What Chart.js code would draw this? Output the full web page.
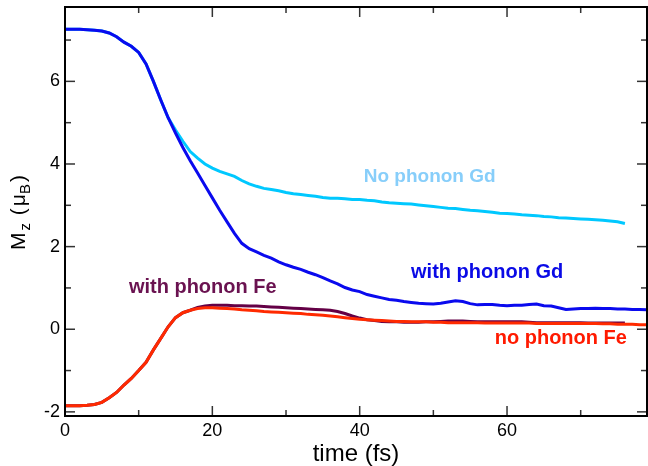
<!DOCTYPE html>
<html>
<head>
<meta charset="utf-8">
<script src="https://cdn.jsdelivr.net/npm/chart.js@4.4.1/dist/chart.umd.min.js"></script>
<style>
  html, body { margin: 0; padding: 0; background: #fff; }
</style>
</head>
<body>
<canvas id="magChart" width="648" height="466"></canvas>
<script>
// time grid (fs)
const timeFs = [
  0, 1, 2, 3, 4, 5, 6, 7, 8, 9, 10, 11, 12, 13, 14, 15, 16, 17, 18, 19,
  20, 21, 22, 23, 24, 25, 26, 27, 28, 29, 30, 31, 32, 33, 34, 35, 36, 37, 38, 39,
  40, 41, 42, 43, 44, 45, 46, 47, 48, 49, 50, 51, 52, 53, 54, 55, 56, 57, 58, 59,
  60, 61, 62, 63, 64, 65, 66, 67, 68, 69, 70, 71, 72, 73, 74, 75, 76, 77, 78, 79
];

// Gd moment with phonons (blue)
const gdWithPhonon = [
  7.26, 7.26, 7.26, 7.25, 7.24, 7.22, 7.17, 7.08, 6.95, 6.85, 6.70, 6.42, 6.00, 5.55, 5.12, 4.75, 4.40, 4.08, 3.78, 3.48,
  3.18, 2.88, 2.60, 2.32, 2.08, 1.95, 1.87, 1.79, 1.72, 1.63, 1.56, 1.50, 1.45, 1.38, 1.32, 1.25, 1.17, 1.10, 1.01, 0.95,
  0.91, 0.84, 0.80, 0.76, 0.72, 0.70, 0.67, 0.65, 0.63, 0.62, 0.61, 0.63, 0.66, 0.69, 0.67, 0.62, 0.59, 0.60, 0.60, 0.58,
  0.57, 0.58, 0.58, 0.60, 0.61, 0.57, 0.56, 0.52, 0.48, 0.49, 0.50, 0.50, 0.51, 0.50, 0.50, 0.49, 0.49, 0.48, 0.48, 0.47
];

// Gd moment without phonons (cyan)
const gdNoPhonon = [
  7.26, 7.26, 7.26, 7.25, 7.24, 7.22, 7.17, 7.08, 6.95, 6.85, 6.70, 6.42, 6.00, 5.55, 5.12, 4.82, 4.55, 4.30, 4.14, 4.00,
  3.90, 3.82, 3.76, 3.70, 3.60, 3.52, 3.46, 3.41, 3.38, 3.35, 3.31, 3.28, 3.26, 3.24, 3.22, 3.19, 3.17, 3.17, 3.16, 3.14,
  3.14, 3.12, 3.11, 3.08, 3.06, 3.05, 3.04, 3.03, 3.01, 2.99, 2.97, 2.95, 2.93, 2.92, 2.90, 2.88, 2.87, 2.85, 2.83, 2.81,
  2.80, 2.79, 2.77, 2.76, 2.75, 2.73, 2.72, 2.70, 2.69, 2.68, 2.67, 2.66, 2.65, 2.64, 2.62, 2.60, 2.56, null, null, null
];

// Fe moment with phonons (purple)
const feWithPhonon = [
  -1.85, -1.85, -1.85, -1.84, -1.82, -1.77, -1.66, -1.53, -1.35, -1.19, -1.00, -0.80, -0.50, -0.22, 0.06, 0.28, 0.40, 0.46, 0.53, 0.56,
  0.58, 0.58, 0.58, 0.57, 0.57, 0.56, 0.56, 0.55, 0.54, 0.53, 0.52, 0.51, 0.50, 0.49, 0.48, 0.47, 0.46, 0.43, 0.38, 0.32,
  0.27, 0.23, 0.21, 0.19, 0.18, 0.18, 0.17, 0.17, 0.17, 0.18, 0.18, 0.19, 0.20, 0.20, 0.20, 0.19, 0.18, 0.18, 0.18, 0.18,
  0.18, 0.18, 0.18, 0.17, 0.16, 0.16, 0.16, 0.16, 0.16, 0.16, 0.16, 0.15, 0.15, 0.15, 0.15, 0.15, 0.15, null, null, null
];

// Fe moment without phonons (red)
const feNoPhonon = [
  -1.85, -1.85, -1.85, -1.84, -1.82, -1.77, -1.66, -1.53, -1.35, -1.19, -1.00, -0.80, -0.50, -0.22, 0.06, 0.28, 0.40, 0.46, 0.50, 0.52,
  0.52, 0.51, 0.50, 0.49, 0.47, 0.46, 0.45, 0.43, 0.42, 0.41, 0.40, 0.39, 0.38, 0.36, 0.35, 0.34, 0.32, 0.30, 0.28, 0.26,
  0.24, 0.23, 0.22, 0.21, 0.20, 0.19, 0.19, 0.18, 0.18, 0.18, 0.17, 0.17, 0.16, 0.16, 0.16, 0.16, 0.16, 0.15, 0.15, 0.15,
  0.15, 0.15, 0.15, 0.15, 0.14, 0.14, 0.14, 0.14, 0.14, 0.14, 0.14, 0.14, 0.14, 0.13, 0.13, 0.12, 0.12, 0.12, 0.11, 0.11
];

// axis ticks
const xMajorTicks = [0, 20, 40, 60];
const xMinorTicks = [10, 30, 50, 70];
const yMajorTicks = [-2, 0, 2, 4, 6];
const yMinorTicks = [-1, 1, 3, 5, 7];

// in-plot curve labels, placed in data coordinates
const curveLabels = [
  { text: 'No phonon Gd', t: 49.5, m: 3.68, color: '#87cefa', size: 19 },
  { text: 'with phonon Gd', t: 57.3, m: 1.38, color: '#0a0ae6', size: 20 },
  { text: 'with phonon Fe', t: 18.7, m: 1.0, color: '#6a1250', size: 20 },
  { text: 'no phonon Fe', t: 67.3, m: -0.22, color: '#ff1a00', size: 20 }
];

const FONT = "'Liberation Sans', Arial, Helvetica, sans-serif";

function toPoints(vals) {
  const pts = [];
  vals.forEach((v, i) => { if (v !== null) pts.push({ x: timeFs[i], y: v }); });
  return pts;
}

// frame, inward ticks, y title and curve labels
const decorPlugin = {
  id: 'decor',
  afterDatasetsDraw(chart) {
    const ctx = chart.ctx;
    const xs = chart.scales.x, ys = chart.scales.y;
    const a = chart.chartArea;
    ctx.save();

    // curve labels
    ctx.textAlign = 'center';
    ctx.textBaseline = 'middle';
    curveLabels.forEach(l => {
      ctx.font = 'bold ' + l.size + 'px ' + FONT;
      ctx.fillStyle = l.color;
      ctx.fillText(l.text, xs.getPixelForValue(l.t), ys.getPixelForValue(l.m));
    });

    // ticks
    ctx.strokeStyle = '#333';
    ctx.lineWidth = 1.5;
    const tick = (x1, y1, x2, y2) => { ctx.beginPath(); ctx.moveTo(x1, y1); ctx.lineTo(x2, y2); ctx.stroke(); };
    xMajorTicks.forEach(v => { const p = xs.getPixelForValue(v); tick(p, a.bottom, p, a.bottom - 10); tick(p, a.top, p, a.top + 10); });
    xMinorTicks.forEach(v => { const p = xs.getPixelForValue(v); tick(p, a.bottom, p, a.bottom - 6); tick(p, a.top, p, a.top + 6); });
    yMajorTicks.forEach(v => { const p = ys.getPixelForValue(v); tick(a.left, p, a.left + 10, p); tick(a.right, p, a.right - 10, p); });
    yMinorTicks.forEach(v => { const p = ys.getPixelForValue(v); tick(a.left, p, a.left + 6, p); tick(a.right, p, a.right - 6, p); });

    // frame
    ctx.strokeStyle = '#000';
    ctx.lineWidth = 2;
    ctx.strokeRect(a.left, a.top, a.right - a.left, a.bottom - a.top);

    // y title: M_z (mu_B)
    ctx.translate(25, 250);
    ctx.rotate(-Math.PI / 2);
    ctx.fillStyle = '#000';
    ctx.textAlign = 'left';
    ctx.textBaseline = 'alphabetic';
    const big = '21px ' + FONT, small = '15px ' + FONT;
    let u = 0;
    const piece = (txt, font, dv) => {
      ctx.font = font;
      ctx.fillText(txt, u, dv);
      u += ctx.measureText(txt).width;
    };
    piece('M', big, 0);
    u += 2;
    piece('z', small, 5);
    u += 2;
    piece(' (', big, 0);
    u += 2;
    piece('\u03bc', big, 0);
    piece('B', small, 5);
    u += 2;
    piece(')', big, 0);
    ctx.restore();
  }
};

const magChart = new Chart(document.getElementById('magChart'), {
  type: 'line',
  data: {
    datasets: [
      { label: 'no phonon Fe', data: toPoints(feNoPhonon), borderColor: '#ff2a00' },
      { label: 'with phonon Fe', data: toPoints(feWithPhonon), borderColor: '#640046' },
      { label: 'with phonon Gd', data: toPoints(gdWithPhonon), borderColor: '#0a0aee' },
      { label: 'No phonon Gd', data: toPoints(gdNoPhonon), borderColor: '#00c8ff' }
    ]
  },
  options: {
    responsive: false,
    animation: false,
    layout: { padding: { top: 7, right: 1, left: 0, bottom: 0 } },
    elements: {
      line: { borderWidth: 3, tension: 0, fill: false },
      point: { radius: 0 }
    },
    plugins: {
      legend: { display: false },
      tooltip: { enabled: false }
    },
    scales: {
      x: {
        type: 'linear',
        min: 0,
        max: 79,
        grid: { display: false, drawTicks: false },
        border: { display: false },
        ticks: { color: '#000', font: { family: FONT, size: 18 }, padding: 4, maxRotation: 0, autoSkip: false, includeBounds: false },
        afterBuildTicks: ax => { ax.ticks = xMajorTicks.map(v => ({ value: v })); },
        afterFit: ax => { ax.height = 50; ax.paddingLeft = 0; ax.paddingRight = 0; },
        title: { display: true, text: 'time (fs)', color: '#000', font: { family: FONT, size: 24, lineHeight: 1.0 }, padding: { top: 0, bottom: 0 } }
      },
      y: {
        min: -2.1,
        max: 7.8,
        grid: { display: false, drawTicks: false },
        border: { display: false },
        ticks: { color: '#000', font: { family: FONT, size: 18 }, padding: 5, includeBounds: false },
        afterBuildTicks: ax => { ax.ticks = yMajorTicks.map(v => ({ value: v })); },
        afterFit: ax => { ax.width = 65; ax.paddingTop = 0; ax.paddingBottom = 0; }
      }
    }
  },
  plugins: [decorPlugin]
});
</script>
</body>
</html>
